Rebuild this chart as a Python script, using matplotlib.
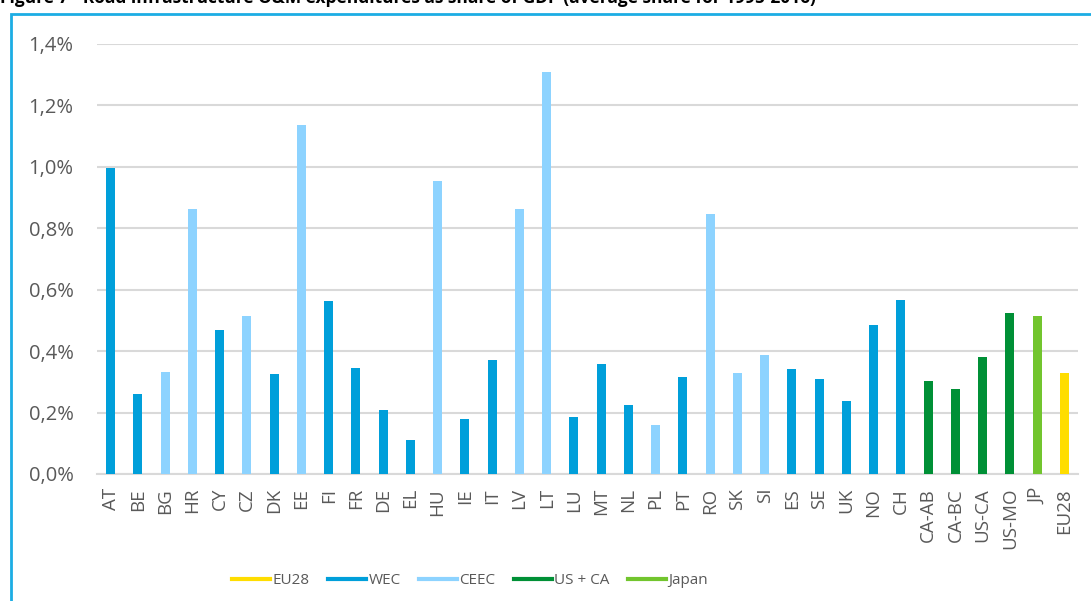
#!/usr/bin/env python

import matplotlib.pyplot as plt
from matplotlib.lines import Line2D
from matplotlib.patches import Rectangle
from matplotlib.ticker import FuncFormatter

# countries / regions on the x axis
countries = ['AT', 'BE', 'BG', 'HR', 'CY', 'CZ', 'DK', 'EE', 'FI', 'FR', 'DE', 'EL',
             'HU', 'IE', 'IT', 'LV', 'LT', 'LU', 'MT', 'NL', 'PL', 'PT', 'RO', 'SK',
             'SI', 'ES', 'SE', 'UK', 'NO', 'CH', 'CA-AB', 'CA-BC', 'US-CA', 'US-MO',
             'JP', 'EU28']
# O&M expenditures, % of GDP
shares = [0.995, 0.26, 0.332, 0.863, 0.469, 0.515, 0.326, 1.137, 0.564, 0.345, 0.208, 0.11,
          0.954, 0.179, 0.371, 0.863, 1.309, 0.186, 0.358, 0.225, 0.16, 0.316, 0.847, 0.329,
          0.388, 0.342, 0.309, 0.238, 0.485, 0.567, 0.303, 0.277, 0.381, 0.524,
          0.515, 0.329]
groups = ['WEC', 'WEC', 'CEEC', 'CEEC', 'WEC', 'CEEC', 'WEC', 'CEEC', 'WEC', 'WEC', 'WEC', 'WEC',
          'CEEC', 'WEC', 'WEC', 'CEEC', 'CEEC', 'WEC', 'WEC', 'WEC', 'CEEC', 'WEC', 'CEEC', 'CEEC',
          'CEEC', 'WEC', 'WEC', 'WEC', 'WEC', 'WEC', 'US + CA', 'US + CA', 'US + CA', 'US + CA',
          'Japan', 'EU28']

legend_groups = ['EU28', 'WEC', 'CEEC', 'US + CA', 'Japan']
group_colors = {'EU28': '#FFDD00', 'WEC': '#009FDA', 'CEEC': '#8DD3FF',
                'US + CA': '#009036', 'Japan': '#72C52E'}

yticks = [0.0, 0.2, 0.4, 0.6, 0.8, 1.0, 1.2, 1.4]

plt.rcParams['font.family'] = ['Open Sans', 'DejaVu Sans']

fig = plt.figure(figsize=(10.91, 6.01), dpi=100)
ax = fig.add_axes([97 / 1091, 1 - 474 / 601, 981 / 1091, 430 / 601])

x = range(len(countries))
ax.bar(x, shares, width=0.33, color=[group_colors[g] for g in groups], zorder=3)

ax.set_xlim(-0.5, len(countries) - 0.5)
ax.set_ylim(0, 1.4)
ax.set_yticks(yticks)
ax.yaxis.set_major_formatter(FuncFormatter(lambda v, p: '{:.1f}%'.format(v).replace('.', ',')))
ax.set_xticks(list(x))
ax.set_xticklabels(countries, rotation=90)
ax.tick_params(axis='both', length=0, colors='#595959')
ax.tick_params(axis='y', pad=17, labelsize=14.5)
ax.tick_params(axis='x', pad=10, labelsize=13.5)
ax.grid(axis='y', color='#D9D9D9', linewidth=1.5, zorder=0)
for s in ['top', 'right', 'left']:
    ax.spines[s].set_visible(False)
ax.spines['bottom'].set_color('#D9D9D9')
ax.spines['bottom'].set_linewidth(1.5)

# legend
handles = [Line2D([0], [0], color=group_colors[g], linewidth=3) for g in legend_groups]
fig.legend(handles, legend_groups, loc='center', bbox_to_anchor=(470 / 1091, 1 - 581 / 601),
           ncol=5, frameon=False, fontsize=11, handlelength=2.5, handletextpad=0.15,
           columnspacing=1.2, labelcolor='#595959')

# chart frame
fig.patches.append(Rectangle((11 / 1091, -0.05), 1.2, 1 - 14 / 601 + 0.05,
                             transform=fig.transFigure, fill=False,
                             edgecolor='#1CADE4', linewidth=2))

# figure caption, cut off at the top like the source
fig.text(0.0, 1 + 2 / 601, 'Figure 7 - Road infrastructure O&M expenditures as share of GDP '
         '(average share for 1995-2016)', fontsize=12.5, fontweight='bold',
         va='center', ha='left', color='black')

plt.savefig('out.png', dpi=100)
